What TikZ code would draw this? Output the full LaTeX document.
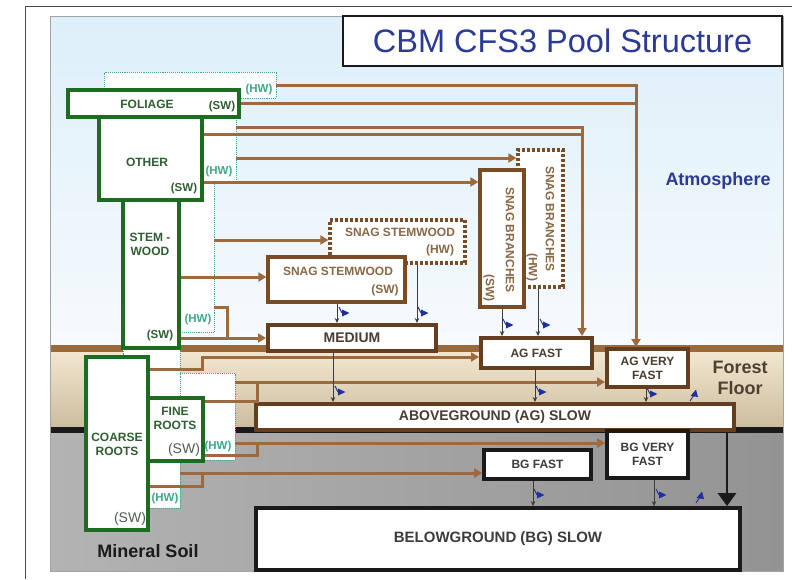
\documentclass[tikz,border=0pt]{standalone}
\usepackage{fontspec}
\setmainfont{Liberation Sans}
\usetikzlibrary{arrows.meta,positioning,calc}
\definecolor{ink}{HTML}{1A1A1A}
\definecolor{frameC}{HTML}{4A4A4A}
\definecolor{liveC}{HTML}{1E6B22}
\definecolor{liveTxt}{HTML}{2F5F30}
\definecolor{thinTxt}{HTML}{4F5F50}
\definecolor{hwC}{HTML}{3FA98A}
\definecolor{deadC}{HTML}{7A4C26}
\definecolor{poolC}{HTML}{653E1F}
\definecolor{deadTxt}{HTML}{8A6846}
\definecolor{poolTxt}{HTML}{4A3C30}
\definecolor{flowC}{HTML}{9C6A3E}
\definecolor{titleC}{HTML}{2B3A96}
\definecolor{floorTxt}{HTML}{4D4132}
\definecolor{co2C}{HTML}{1F2F9E}
\definecolor{skyTop}{HTML}{DDEFF9}
\definecolor{skyBot}{HTML}{F6FAFD}
\definecolor{floorTop}{HTML}{F1E6CF}
\definecolor{floorBot}{HTML}{CDBD9F}
\definecolor{soilL}{HTML}{B3B3B3}
\definecolor{soilR}{HTML}{939393}
\definecolor{groundC}{HTML}{9A6A3C}
\tikzset{
  titlebox/.style={draw=ink,line width=2.8pt,fill=white,inner sep=0pt,
    minimum width=439pt,minimum height=50pt,text=titleC,font=\fontsize{32.5}{34}\selectfont},
  zone/.style={font=\bfseries\fontsize{18}{21}\selectfont,align=center},
  livebox/.style={draw=liveC,line width=3.2pt,fill=white,inner sep=0pt},
  hwbox/.style={draw=hwC,line width=0.9pt,densely dotted,fill=white,inner sep=0pt},
  snagbox/.style={draw=deadC,line width=3.2pt,fill=white,inner sep=0pt},
  snagdot/.style={snagbox,dash pattern=on 2.8pt off 2.2pt},
  poolbox/.style={draw=poolC,line width=4pt,fill=white,inner sep=0pt,align=center,
    text=poolTxt,font=\bfseries\fontsize{12}{14}\selectfont},
  bgbox/.style={draw=ink,line width=3.6pt,fill=white,inner sep=0pt,align=center,
    text=ink!85,font=\bfseries\fontsize{12}{14.5}\selectfont},
  livelab/.style={font=\bfseries\fontsize{12}{14}\selectfont,text=liveTxt,align=center},
  swlab/.style={font=\bfseries\fontsize{11.5}{12}\selectfont,text=liveTxt},
  swthin/.style={font=\fontsize{14}{14}\selectfont,text=thinTxt},
  hwlab/.style={font=\bfseries\fontsize{11.5}{12}\selectfont,text=hwC},
  snaglab/.style={font=\bfseries\fontsize{12}{13}\selectfont,text=deadTxt},
  flow/.style={draw=flowC,line width=3pt,-{Triangle[length=8pt,width=9pt]}},
  flowjoin/.style={draw=flowC,line width=3pt},
  decay/.style={draw=ink!85,line width=0.7pt,-{Stealth[length=5pt,width=4.5pt]}},
  bigdecay/.style={draw=ink,line width=2.8pt,-{Triangle[length=13pt,width=18pt]}},
  co2/.pic={\draw[co2C,line width=0.9pt] (-3,-6) -- (0,0);
    \fill[co2C] (0,-3.5) -- (7.5,0) -- (0,3.5) -- cycle;},
  co2up/.pic={\draw[co2C,line width=0.9pt] (-4,6) -- (0,0);
    \fill[co2C] (-3.5,1) -- (2,-5.5) -- (4,2) -- cycle;},
}

\begin{document}
\begin{tikzpicture}[x=1pt,y=-1pt]
\useasboundingbox (0,0) rectangle (794,579);

% ---- zones ----
\shade[top color=skyTop,bottom color=skyBot] (50,16) rectangle (783,346);
\shade[top color=floorTop,bottom color=floorBot] (50,352) rectangle (783,427);
\shade[left color=soilL,right color=soilR] (50,433) rectangle (783,571);
\fill[groundC] (50,345) rectangle (783,352);
\fill[ink] (50,427) rectangle (783,433);
\draw[frameC!50,line width=0.8pt] (50,16) rectangle (783,571);
\draw[frameC,line width=1pt] (25,579) -- (25,6) -- (792,6);

\node[titlebox] (title) at (562.5,41) {CBM CFS3 Pool Structure};
\node[zone,text=titleC] (atm) at (718,181) {Atmosphere};
\node[zone,text=floorTxt] (ffl) at (740,378) {Forest\\Floor};
\node[zone,text=ink] (soil) at (148,551) {Mineral Soil};

% ---- live pools: hardwood behind, softwood in front ----
\node[hwbox,minimum width=172pt,minimum height=26pt] (folhw) at (190,85) {};
\node[hwbox,minimum width=106pt,minimum height=77pt] (othhw) at (183,143.5) {};
\node[hwbox,minimum width=64pt,minimum height=150pt] (stemhw) at (182,257) {};
\node[hwbox,minimum width=57pt,minimum height=168pt] (coarsehw) at (151.5,424) {};
\node[hwbox,minimum width=55pt,minimum height=87pt] (finehw) at (207.5,416.5) {};
\node[hwlab] (folhwT) at (259,90) {(HW)};
\node[hwlab] (othhwT) at (219,172) {(HW)};
\node[hwlab] (stemhwT) at (198,320) {(HW)};
\node[hwlab] (finehwT) at (218,447) {(HW)};
\node[hwlab] (coarsehwT) at (165,499) {(HW)};

\node[livebox,minimum width=103pt,minimum height=83pt] (oth) at (150.5,158.5) {};
\node[livebox,minimum width=56pt,minimum height=148pt] (stem) at (151,274) {};
\node[livebox,minimum width=171pt,minimum height=27pt] (fol) at (153.5,103.5) {};
\node[livebox,minimum width=62pt,minimum height=173pt] (coarse) at (117,443.5) {};
\node[livebox,minimum width=55pt,minimum height=63pt] (fine) at (175.5,429.5) {};
\node[livelab] (folT) at (147,104) {FOLIAGE};
\node[swlab] (folS) at (222,107) {(SW)};
\node[livelab] (othT) at (147,162) {OTHER};
\node[swlab] (othS) at (184,189) {(SW)};
\node[livelab] (stemT) at (150,244) {STEM -\\WOOD};
\node[swlab] (stemS) at (160,336) {(SW)};
\node[livelab] (fineT) at (175,418) {FINE\\ROOTS};
\node[swthin] (fineS) at (184,450) {(SW)};
\node[livelab] (coarseT) at (117,444) {COARSE\\ROOTS};
\node[swthin] (coarseS) at (130,519) {(SW)};

% ---- dead pools ----
\node[snagdot,minimum width=135pt,minimum height=43pt] (snaghw) at (397.5,241.5) {};
\node[snagbox,minimum width=137pt,minimum height=45pt] (snagsw) at (336.5,279.5) {};
\node[snaglab] (snaghwT) at (400,232) {SNAG STEMWOOD};
\node[snaglab] (snaghwS) at (440,250) {(HW)};
\node[snaglab] (snagswT) at (338,271) {SNAG STEMWOOD};
\node[snaglab] (snagswS) at (385,290) {(SW)};
\node[snagdot,minimum width=45pt,minimum height=137pt] (brhw) at (540.5,218.5) {};
\node[snagbox,minimum width=44pt,minimum height=137pt] (brsw) at (502,238.5) {};
\node[snaglab,rotate=-90] (brhwT) at (550,219) {SNAG BRANCHES};
\node[snaglab,rotate=-90] (brhwS) at (532,267) {(HW)};
\node[snaglab,rotate=-90] (brswT) at (510,240) {SNAG BRANCHES};
\node[snaglab,rotate=-90] (brswS) at (489,288) {(SW)};

\node[poolbox,minimum width=168pt,minimum height=26pt,font=\bfseries\fontsize{14}{15}\selectfont] (medium) at (352,338) {MEDIUM};
\node[poolbox,minimum width=111pt,minimum height=30pt] (agfast) at (536.5,353) {AG FAST};
\node[poolbox,minimum width=81pt,minimum height=38pt] (agvf) at (647.5,368) {AG VERY\\FAST};
\node[poolbox,minimum width=478pt,minimum height=26pt,font=\bfseries\fontsize{14}{15}\selectfont] (agslow) at (495,417) {ABOVEGROUND (AG) SLOW};
\node[bgbox,minimum width=81pt,minimum height=47pt] (bgvf) at (647.5,454.5) {BG VERY\\FAST};
\node[bgbox,minimum width=107pt,minimum height=29pt] (bgfast) at (537.5,464.5) {BG FAST};
\node[bgbox,minimum width=484pt,minimum height=62pt,line width=3.8pt,font=\bfseries\fontsize{15}{16}\selectfont] (bgslow) at (498,539) {BELOWGROUND (BG) SLOW};

% ---- turnover (brown) ----
\coordinate (vfJ) at ([xshift=-11.5pt]agvf.north);
\coordinate (fJ) at ([xshift=45.5pt]agfast.north);
\coordinate (medJ) at (227,0);
\coordinate (rootJ) at (202.5,0);
\coordinate (fineJ) at (257,0);
\draw[flow] (folhw.east) -| (vfJ);
\draw[flowjoin] (fol.east) -- (vfJ |- fol.east);
\draw[flow] (othhw.east |- 0,127) -| (fJ);
\draw[flowjoin] (oth.east |- 0,134) -- (fJ |- 0,134);
\draw[flow] (othhw.east |- 0,158) -- (brhw.west |- 0,158);
\draw[flow] (oth.east |- 0,182) -- (brsw.west |- 0,182);
\draw[flow] (stemhw.east |- 0,240) -- (snaghw.west |- 0,240);
\draw[flow] (stem.east |- 0,277) -- (snagsw.west |- 0,277);
\draw[flowjoin] (stemhw.east |- 0,307) -| (medJ |- medium.west);
\draw[flow] (stem.east |- medium.west) -- (medium.west);
\draw[flow] (coarse.east |- 0,369) -| (rootJ |- 0,357) -- (agfast.west |- 0,357);
\draw[flowjoin] (fine.east |- 0,401) -| (fineJ |- 0,382);
\draw[flow] (finehw.east |- 0,382) -- (agvf.west |- 0,382);
\draw[flowjoin] (fine.east |- 0,455) -| (fineJ |- 0,443);
\draw[flow] (finehw.east |- 0,443) -- (bgvf.west |- 0,443);
\draw[flowjoin] (coarse.east |- 0,486) -| (rootJ |- 0,473);
\draw[flow] (coarsehw.east |- 0,473) -- (bgfast.west |- 0,473);

% ---- decay (black) with CO2 release ----
\draw[decay] (snagsw.south -| 337,0) -- (medium.north -| 337,0);
\draw[decay] (snaghw.south -| 417,0) -- (medium.north -| 417,0);
\draw[decay] (brsw.south -| 502,0) -- (agfast.north -| 502,0);
\draw[decay] (brhw.south -| 538,0) -- (agfast.north -| 538,0);
\draw[decay] (medium.south -| 333,0) -- (agslow.north -| 333,0);
\draw[decay] (agfast.south -| 535,0) -- (agslow.north -| 535,0);
\draw[decay] (agvf.south -| 646,0) -- (agslow.north -| 646,0);
\draw[decay] (bgfast.south -| 533,0) -- (bgslow.north -| 533,0);
\draw[decay] (bgvf.south -| 654,0) -- (bgslow.north -| 654,0);
\draw[bigdecay] (agslow.south -| 727,0) -- (bgslow.north -| 727,0);
\pic at (342,313) {co2};
\pic at (421,313) {co2};
\pic at (506,325) {co2};
\pic at (543,325) {co2};
\pic at (338,392) {co2};
\pic at (539,392) {co2};
\pic at (650,394) {co2};
\pic at (537,495) {co2};
\pic at (659,495) {co2};
\pic at (694,395) {co2up};
\pic at (700,497) {co2up};

\end{tikzpicture}
\end{document}
